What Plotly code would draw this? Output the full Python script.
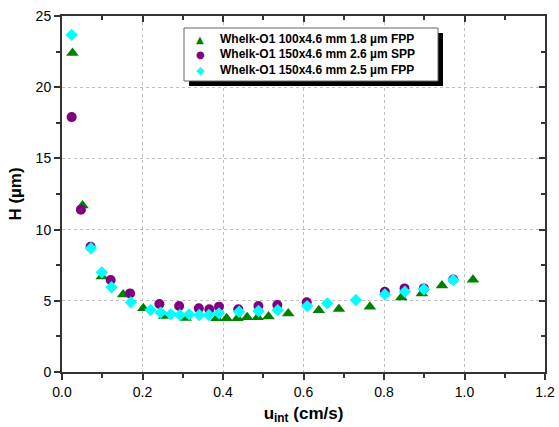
import plotly.graph_objects as go

# Whelk-O1 100x4.6 mm, 1.8 um FPP
u_fpp18 = [0.026, 0.051, 0.099, 0.152, 0.202, 0.254, 0.307, 0.384, 0.409, 0.436,
           0.460, 0.486, 0.513, 0.562, 0.638, 0.688, 0.765, 0.843, 0.894, 0.944, 1.021]
h_fpp18 = [22.4, 11.7, 6.7, 5.45, 4.47, 3.93, 3.80, 3.77, 3.77, 3.77,
           3.84, 3.84, 3.89, 4.10, 4.33, 4.43, 4.59, 5.24, 5.52, 6.07, 6.48]

# Whelk-O1 150x4.6 mm, 2.6 um SPP
u_spp26 = [0.024, 0.047, 0.071, 0.121, 0.169, 0.242, 0.291, 0.340, 0.366, 0.390,
           0.438, 0.488, 0.535, 0.608, 0.802, 0.851, 0.899, 0.972]
h_spp26 = [17.9, 11.4, 8.8, 6.46, 5.52, 4.78, 4.63, 4.47, 4.40, 4.59,
           4.40, 4.63, 4.70, 4.90, 5.64, 5.87, 5.87, 6.50]

# Whelk-O1 150x4.6 mm, 2.5 um FPP
u_fpp25 = [0.024, 0.072, 0.099, 0.123, 0.171, 0.220, 0.245, 0.270, 0.293, 0.316,
           0.341, 0.365, 0.390, 0.440, 0.488, 0.536, 0.609, 0.659, 0.730, 0.802,
           0.852, 0.899, 0.972]
h_fpp25 = [23.67, 8.69, 7.0, 5.95, 4.89, 4.35, 4.17, 4.05, 4.0, 4.05,
           4.0, 4.0, 4.12, 4.23, 4.28, 4.35, 4.63, 4.82, 5.06, 5.45,
           5.64, 5.81, 6.46]

names = ["Whelk-O1 100x4.6 mm 1.8 \u00b5m FPP",
         "Whelk-O1 150x4.6 mm 2.6 \u00b5m SPP",
         "Whelk-O1 150x4.6 mm 2.5 \u00b5m FPP"]
colors = ["#008000", "#800080", "#00FFFF"]
symbols = ["triangle-up", "circle", "diamond"]
key_glyphs = ["\u25b2", "\u25cf", "\u25c6"]

FONT = "Arial, Liberation Sans, sans-serif"
AX = "#333333"

W, H = 559, 427
ml, mr, mt, mb = 62, 14, 16, 55
pw, ph = W - ml - mr, H - mt - mb


def px(xp):
    return (xp - ml) / pw


def py(yp):
    return (H - mb - yp) / ph


fig = go.Figure()
for xs, ys, nm, col, sym, sz in zip([u_fpp18, u_spp26, u_fpp25],
                                   [h_fpp18, h_spp26, h_fpp25],
                                   names, colors, symbols, [11, 10, 9.5]):
    fig.add_trace(go.Scatter(x=xs, y=ys, mode="markers", name=nm, showlegend=False,
                             marker=dict(symbol=sym, size=sz, color=col)))

# invisible trace on the mirrored axes so the top/right ticks are drawn
fig.add_trace(go.Scatter(x=[0], y=[0], xaxis="x2", yaxis="y2", mode="markers",
                         marker=dict(opacity=0), showlegend=False, hoverinfo="skip"))

# legend box with drop shadow
bx0, by0, bx1, by1 = 184, 28, 438, 81
sh = 5
fig.add_shape(type="rect", xref="paper", yref="paper",
              x0=px(bx0 + sh), x1=px(bx1 + sh), y0=py(by1 + sh), y1=py(by0 + sh),
              fillcolor="black", line=dict(width=0), layer="above")
fig.add_shape(type="rect", xref="paper", yref="paper",
              x0=px(bx0), x1=px(bx1), y0=py(by1), y1=py(by0),
              fillcolor="white", line=dict(color="#666666", width=1), layer="above")

row_y = [39, 54.5, 70]
glyph_sizes = [10, 10, 11]
for nm, col, g, gs, ry in zip(names, colors, key_glyphs, glyph_sizes, row_y):
    fig.add_annotation(x=px(200), y=py(ry), xref="paper", yref="paper",
                       text=g, showarrow=False, xanchor="center", yanchor="middle",
                       font=dict(family="DejaVu Sans", size=gs, color=col))
    fig.add_annotation(x=px(218), y=py(ry), xref="paper", yref="paper",
                       text="<b>" + nm + "</b>", showarrow=False,
                       xanchor="left", yanchor="middle",
                       font=dict(family=FONT, size=12, color="black"))

grid = dict(showgrid=True, gridcolor="#c0c0c0", griddash="dot", gridwidth=1)

fig.update_layout(
    width=W, height=H,
    margin=dict(l=ml, r=mr, t=mt, b=mb),
    paper_bgcolor="white", plot_bgcolor="white",
    font=dict(family=FONT, size=14, color="black"),
    showlegend=False,
    xaxis=dict(range=[0, 1.2], dtick=0.2, tickformat=".1f", zeroline=False, automargin=False,
               showline=True, linecolor=AX, linewidth=2,
               ticks="outside", ticklen=6, tickwidth=1.5, tickcolor=AX,
               minor=dict(dtick=0.1, ticks="outside", ticklen=4, tickwidth=1.5, tickcolor=AX, showgrid=False),
               title=dict(text="<b>u<sub>int</sub> (cm/s)</b>", font=dict(size=17), standoff=8),
               **grid),
    yaxis=dict(range=[0, 25], dtick=5, zeroline=False, automargin=False,
               showline=True, linecolor=AX, linewidth=2,
               ticks="outside", ticklen=6, tickwidth=1.5, tickcolor=AX,
               minor=dict(dtick=2.5, ticks="outside", ticklen=4, tickwidth=1.5, tickcolor=AX, showgrid=False),
               title=dict(text="<b>H (\u00b5m)</b>", font=dict(size=17), standoff=10),
               **grid),
    xaxis2=dict(overlaying="x", matches="x", side="top", range=[0, 1.2], dtick=0.2, automargin=False,
                showline=True, linecolor=AX, linewidth=2, showgrid=False, zeroline=False,
                ticks="inside", ticklen=6, tickwidth=1.5, tickcolor=AX, showticklabels=False,
                minor=dict(dtick=0.1, ticks="inside", ticklen=4, tickwidth=1.5, tickcolor=AX)),
    yaxis2=dict(overlaying="y", matches="y", side="right", range=[0, 25], dtick=5, automargin=False,
                showline=True, linecolor=AX, linewidth=2, showgrid=False, zeroline=False,
                ticks="inside", ticklen=6, tickwidth=1.5, tickcolor=AX, showticklabels=False,
                minor=dict(dtick=2.5, ticks="inside", ticklen=4, tickwidth=1.5, tickcolor=AX)),
)

fig.write_html("out.html")
